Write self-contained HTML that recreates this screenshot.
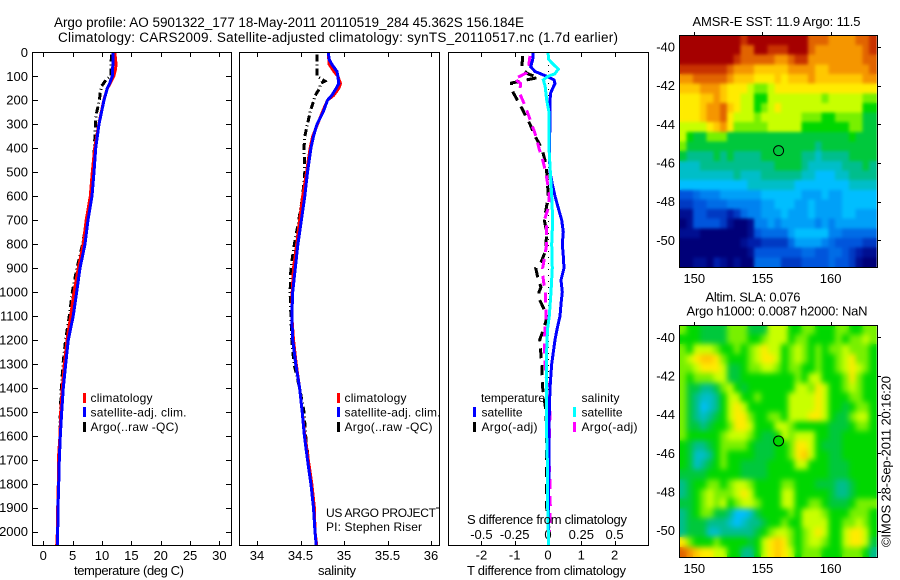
<!DOCTYPE html>
<html>
<head>
<meta charset="utf-8">
<title>Argo profile</title>
<style>
html,body{margin:0;padding:0;background:#fff;width:900px;height:580px;overflow:hidden}
svg{display:block}
text{font-family:"Liberation Sans",sans-serif;fill:#000}
.t{font-size:13px}
.l{font-size:12px}
.h{font-size:13.5px}
</style>
</head>
<body>
<svg id="chart" width="900" height="580" viewBox="0 0 900 580" xmlns="http://www.w3.org/2000/svg">
<defs>
<filter id="soft1" filterUnits="userSpaceOnUse" x="680" y="36" width="197" height="231" color-interpolation-filters="sRGB">
<feGaussianBlur in="SourceGraphic" stdDeviation="1.6" result="b"/>
<feMerge><feMergeNode in="SourceGraphic"/><feMergeNode in="b"/></feMerge>
</filter>
<filter id="soft2" filterUnits="userSpaceOnUse" x="680" y="326" width="197" height="231" color-interpolation-filters="sRGB">
<feGaussianBlur in="SourceGraphic" stdDeviation="3" result="b"/>
<feMerge><feMergeNode in="SourceGraphic"/><feMergeNode in="b"/></feMerge>
</filter>
</defs>
<rect x="0" y="0" width="900" height="580" fill="#fff"/>
<text class="h" x="54" y="27" textLength="470" lengthAdjust="spacing">Argo profile: AO 5901322_177 18-May-2011 20110519_284 45.362S 156.184E</text>
<text class="h" x="58" y="42" textLength="560" lengthAdjust="spacing">Climatology: CARS2009. Satellite-adjusted climatology: synTS_20110517.nc (1.7d earlier)</text>
<g id="map1"></g>
<g id="map2"></g>
<g id="p1"></g>
<g id="p2"></g>
<g id="p3"></g>
<rect x="32.5" y="52.5" width="199" height="493" fill="none" stroke="#000"/>
<rect x="239.5" y="52.5" width="200" height="493" fill="none" stroke="#000"/>
<rect x="448.5" y="52.5" width="200" height="493" fill="none" stroke="#000"/>
<rect x="679.5" y="35.5" width="198" height="232" fill="none" stroke="#000"/>
<rect x="679.5" y="325.5" width="198" height="232" fill="none" stroke="#000"/>
<text class="t" x="74" y="575" textLength="110" lengthAdjust="spacing">temperature (deg C)</text>
<text class="t" x="318" y="575" textLength="38" lengthAdjust="spacing">salinity</text>
<text class="t" x="467" y="575" textLength="159" lengthAdjust="spacing">T difference from climatology</text>
<text class="t" x="467" y="524" textLength="160" lengthAdjust="spacing">S difference from climatology</text>
<text class="l" x="326" y="517" textLength="110" lengthAdjust="spacing">US ARGO PROJECT</text>
<text class="l" x="326" y="531" textLength="96" lengthAdjust="spacing">PI: Stephen Riser</text>
<line x1="436" y1="508" x2="440" y2="508" stroke="#000"/>
<g>
<rect x="83" y="393" width="3" height="10" fill="#f00"/>
<rect x="83" y="407" width="3" height="10" fill="#00f"/>
<rect x="83" y="422" width="3" height="10" fill="#000"/>
<text class="l" x="90.5" y="402" textLength="62" lengthAdjust="spacing">climatology</text>
<text class="l" x="90.5" y="416.5" textLength="96" lengthAdjust="spacing">satellite-adj. clim.</text>
<text class="l" x="90.5" y="431" textLength="88" lengthAdjust="spacing">Argo(..raw -QC)</text>
</g>
<g>
<rect x="337" y="393" width="3" height="10" fill="#f00"/>
<rect x="337" y="407" width="3" height="10" fill="#00f"/>
<rect x="337" y="422" width="3" height="10" fill="#000"/>
<text class="l" x="344.5" y="402" textLength="62" lengthAdjust="spacing">climatology</text>
<text class="l" x="344.5" y="416.5" textLength="96" lengthAdjust="spacing">satellite-adj. clim.</text>
<text class="l" x="344.5" y="431" textLength="88" lengthAdjust="spacing">Argo(..raw -QC)</text>
</g>
<g>
<text class="l" x="481" y="402" textLength="64" lengthAdjust="spacing">temperature</text>
<text class="l" x="581.5" y="402" textLength="38" lengthAdjust="spacing">salinity</text>
<rect x="473" y="407" width="3" height="10" fill="#00f"/>
<rect x="473" y="422" width="3" height="10" fill="#000"/>
<rect x="573" y="407" width="3" height="10" fill="#0ff"/>
<rect x="573" y="422" width="3" height="10" fill="#f0f"/>
<text class="l" x="481.5" y="416.5" textLength="41" lengthAdjust="spacing">satellite</text>
<text class="l" x="481.5" y="431" textLength="56" lengthAdjust="spacing">Argo(-adj)</text>
<text class="l" x="581.5" y="416.5" textLength="41" lengthAdjust="spacing">satellite</text>
<text class="l" x="581.5" y="431" textLength="56" lengthAdjust="spacing">Argo(-adj)</text>
</g>
<text class="t" x="692.5" y="26" textLength="168" lengthAdjust="spacing">AMSR-E SST: 11.9 Argo: 11.5</text>
<text class="t" x="705.5" y="301.5" textLength="95" lengthAdjust="spacing">Altim. SLA: 0.076</text>
<text class="t" x="686.5" y="315.5" textLength="181" lengthAdjust="spacing">Argo h1000: 0.0087 h2000: NaN</text>
<text class="t" transform="translate(890.5,547) rotate(-90)" x="0" y="0" textLength="171" lengthAdjust="spacing">©IMOS 28-Sep-2011 20:16:20</text>
</svg>
<script>
// ---- profile data ----
const depthTicks = [0,100,200,300,400,500,600,700,800,900,1000,1100,1200,1300,1400,1500,1600,1700,1800,1900,2000];
const tempTicks = [0,5,10,15,20,25,30];
const salTicks = [34,34.5,35,35.5,36];
const diffTTicks = [-2,-1,0,1,2];
const diffSTicks = [-0.5,-0.25,0,0.25,0.5];
const lonTicks = [150,155,160];
const latTicks = [-40,-42,-44,-46,-48,-50];

const tempDepths = [0,30,50,70,100,130,150,200,300,400,500,600,700,800,900,1000,1100,1200,1300,1400,1500,1600,1700,1800,1900,2000,2055];
const tempClim = [12.2,12.3,12.4,12.3,12.0,11.4,10.9,10.3,9.45,8.75,8.35,8.0,7.3,6.8,5.96,5.23,4.66,4.04,3.58,3.24,2.96,2.85,2.56,2.56,2.45,2.4,2.28];
const tempSat = [11.87,11.87,11.85,11.8,11.75,11.3,10.9,10.34,9.49,8.92,8.64,8.3,7.62,7.1,6.25,5.69,5.1,4.26,3.81,3.4,3.13,2.9,2.73,2.62,2.5,2.45,2.45];
const tempArgoDepths = [10,50,100,115,140,170,200,250,300,400,500,600,700,800,900,1000,1100,1200,1300,1400,1500,1600,1700,1800,1900,2000];
const tempArgo = [11.65,11.5,11.5,10.7,9.95,9.7,9.55,9.1,8.87,8.7,8.4,8.07,7.4,6.7,5.74,4.94,4.43,3.8,3.36,3.07,2.9,2.85,2.6,2.55,2.45,2.4];

const salDepths = [0,30,50,80,100,130,150,180,200,250,300,350,400,500,600,700,800,900,1000,1100,1200,1300,1400,1500,1600,1700,1800,1900,2000,2055];
const salClim = [34.82,34.825,34.83,34.885,34.93,34.96,34.94,34.88,34.81,34.75,34.695,34.64,34.61,34.57,34.525,34.49,34.456,34.42,34.405,34.40,34.42,34.45,34.49,34.52,34.55,34.59,34.63,34.66,34.667,34.686];
const salSat = [34.82,34.83,34.86,34.92,34.93,34.94,34.91,34.86,34.81,34.76,34.69,34.65,34.62,34.58,34.55,34.51,34.47,34.44,34.41,34.40,34.41,34.445,34.49,34.52,34.545,34.58,34.62,34.65,34.667,34.68];
const salArgoDepths = [10,50,100,120,130,150,180,250,300,350,400,500,600,700,800,900,1000,1100,1200,1300,1400,1500,1600,1700,1800,1900,2000];
const salArgo = [34.69,34.69,34.69,34.78,34.73,34.72,34.67,34.61,34.58,34.55,34.54,34.55,34.525,34.48,34.43,34.39,34.38,34.39,34.40,34.425,34.49,34.54,34.56,34.59,34.63,34.65,34.67];

const diffTSatDepths = [0,30,60,80,100,115,130,150,170,200,300,400,500,550,600,650,700,750,800,850,900,950,1000,1050,1100,1150,1200,1300,1400,1500,1600,1700,1800,1900,2000,2055];
const diffTSat = [-0.44,-0.46,-0.52,-0.39,-0.04,0.18,0.21,0.14,0.08,0.06,0.06,0.04,0.06,0.13,0.21,0.31,0.41,0.46,0.43,0.46,0.48,0.39,0.43,0.39,0.36,0.28,0.21,0.11,0.06,0.04,0.03,0.03,0.02,0.02,0.01,0.01];
const diffSSatDepths = [0,30,50,70,90,100,115,140,200,250,400,600,700,800,900,1000,1100,1150,1200,1300,1400,1500,1600,1700,1800,1900,2000,2055];
const diffSSat = [0,0.005,0.04,0.078,0.05,0,-0.035,-0.022,-0.01,0.0075,0.0075,0.0275,0.035,0.0275,0.0325,0.0225,0.01,-0.0025,-0.0075,-0.0125,-0.01,-0.01,-0.01,-0.005,-0.0025,-0.0025,0.0025,0.0025];
const diffTArgoDepths = [15,70,90,105,128,150,170,200,240,270,300,350,400,450,500,600,700,750,800,830,870,900,950,980,1000,1030,1080,1100,1150,1200,1300,1400,1500,1600,1700,1900,2000];
const diffTArgo = [-0.76,-0.79,-0.6,-0.29,-1.09,-1.09,-1.04,-0.92,-0.76,-0.66,-0.54,-0.39,-0.19,-0.09,-0.04,0.01,-0.11,-0.04,-0.06,-0.08,-0.19,-0.37,-0.29,-0.21,-0.27,-0.26,-0.09,-0.02,-0.12,-0.25,-0.19,-0.16,-0.06,-0.04,-0.04,-0.04,0.04];
const diffSArgoDepths = [15,70,85,100,110,130,170,200,250,300,350,400,450,500,550,600,650,700,730,800,900,950,1000,1100,1200,1250,1350,1400,1500,1600,1700,1800,1900,2000];
const diffSArgo = [-0.135,-0.148,-0.16,-0.21,-0.255,-0.205,-0.215,-0.19,-0.155,-0.1225,-0.09,-0.0675,-0.04,-0.0175,-0.0025,0.01,0.0025,-0.0275,-0.01,-0.01,-0.04,-0.035,-0.02,-0.015,-0.0275,-0.0275,-0.015,-0.0025,0.015,0.01,0.0075,0.015,0.0175,0.0125];

// ---- map data (colour-index per cell, 0 = coldest/lowest, 20 = warmest/highest) ----
const argoLon = 156.184;
const argoLat = -45.362;
const argoSlaValue = 12;
const sstCells = [
[20,20,20,20,20,20,20,20,20,19,20,20,20,20,20,20,20,20,20,18,18,18,17,17,17,17,18,18,19],
[20,20,20,20,20,20,20,20,20,18,18,20,20,19,19,19,20,20,20,18,17,17,17,17,17,17,17,18,19],
[20,20,20,20,20,20,20,20,19,18,18,18,18,18,17,17,18,19,19,17,17,17,17,17,17,17,17,18,18],
[19,19,19,19,19,19,19,18,17,17,17,16,16,16,16,16,17,17,17,17,16,16,17,17,17,17,17,17,18],
[17,17,18,18,18,18,18,17,16,16,16,15,15,15,16,15,16,16,16,17,16,16,16,16,16,16,16,17,17],
[16,16,16,17,17,17,16,15,15,15,14,13,13,14,15,15,15,15,15,15,15,15,15,15,15,15,15,15,15],
[15,15,15,16,16,17,16,15,15,14,14,12,12,14,14,14,14,14,14,14,14,13,14,14,14,14,14,13,13],
[15,15,15,16,17,17,18,16,15,14,14,12,13,14,15,14,14,14,14,14,14,14,14,14,14,14,14,12,12],
[15,15,15,16,17,17,18,15,14,14,14,13,14,14,14,14,14,14,13,13,13,12,12,13,13,13,13,11,11],
[14,14,14,14,15,16,17,15,13,13,13,13,13,14,14,14,14,14,12,12,12,12,12,12,12,13,13,11,11],
[14,12,11,11,13,13,13,11,11,11,11,11,11,11,11,11,11,11,11,11,11,11,11,11,11,12,11,11,11],
[13,11,11,11,11,11,11,11,11,11,11,11,11,11,11,11,11,11,11,11,10,11,11,11,11,11,11,11,11],
[11,10,10,10,10,11,10,11,10,10,10,10,11,11,11,11,11,11,10,10,9,10,10,10,10,11,11,11,11],
[9,9,9,10,10,10,10,10,10,10,10,10,10,10,11,11,11,11,10,9,9,9,9,9,10,10,10,11,10],
[9,9,9,9,9,9,9,9,10,9,9,9,10,10,10,10,10,10,9,9,8,8,8,9,9,10,10,10,10],
[8,8,8,8,8,8,8,8,8,8,9,9,9,9,9,9,9,8,8,8,8,8,8,8,8,9,9,9,9],
[4,4,5,6,6,6,7,7,7,7,7,7,8,8,8,8,8,8,7,7,7,8,7,7,8,8,8,8,8],
[3,3,4,4,5,5,5,6,6,6,6,6,7,7,8,8,8,7,7,8,7,7,7,7,8,8,8,8,8],
[1,1,4,4,3,3,3,2,3,5,6,6,7,7,7,8,7,7,7,8,7,7,7,7,8,8,7,7,7],
[0,1,4,4,4,4,3,1,0,0,1,6,6,7,6,7,7,7,7,7,6,7,6,7,7,7,7,7,7],
[1,1,1,0,0,0,0,0,0,0,1,4,5,5,5,5,7,8,8,8,8,8,6,6,5,5,5,5,5],
[0,0,0,0,0,0,0,0,0,1,2,2,3,3,3,3,5,7,7,7,7,6,5,4,4,4,4,3,3],
[0,0,0,0,0,0,0,0,0,0,1,4,4,4,4,4,4,4,5,5,4,4,5,5,4,3,2,1,1],
[0,0,1,1,0,2,1,0,1,0,0,5,5,5,5,3,3,3,4,4,4,4,5,4,4,3,1,0,0]
];
const slaCells = [
[13,12,12,11,11,11,11,13,13,13,11,11,11,14,14,14,12,12,13,13,12,12,12,13,13,12,12,13,13],
[12,12,12,11,11,11,11,13,13,13,12,12,13,14,14,14,12,13,13,12,12,12,12,13,12,13,13,14,13],
[13,12,14,14,14,13,12,12,13,12,13,14,15,14,14,12,13,14,13,12,13,12,13,13,14,13,13,13,12],
[13,14,15,16,16,15,13,12,12,12,13,14,15,15,14,12,13,14,13,12,13,12,12,13,14,15,13,13,12],
[13,13,14,15,15,15,14,11,11,12,13,13,14,14,13,12,13,13,12,12,13,12,12,13,14,15,14,13,12],
[13,12,13,13,13,14,14,11,11,12,12,12,12,12,12,12,12,13,12,14,14,12,12,12,13,15,13,12,12],
[13,11,11,10,10,11,13,14,12,11,12,12,12,12,12,12,12,14,14,13,15,14,12,12,13,14,13,12,12],
[13,11,10,9,9,10,12,14,14,12,12,13,12,12,12,12,14,14,14,14,15,14,12,12,12,13,13,12,12],
[13,11,10,8,9,10,12,14,15,14,12,12,12,12,12,12,14,14,14,14,15,14,12,12,11,12,13,13,12],
[13,11,10,9,10,11,12,14,15,15,13,12,12,13,13,12,14,14,14,15,15,14,12,11,11,13,14,14,12],
[13,11,11,10,11,12,12,13,15,15,14,12,12,12,14,14,13,12,12,12,12,12,11,11,11,12,13,13,12],
[13,12,12,12,12,12,13,14,14,14,13,12,11,11,12,14,13,14,14,14,12,12,11,11,12,12,12,12,12],
[12,11,10,10,11,12,13,13,13,13,12,11,11,11,12,12,13,15,15,14,12,11,11,11,12,12,12,12,12],
[12,11,9,9,10,12,13,12,12,12,12,11,11,11,12,12,13,15,16,14,12,12,11,11,12,12,12,12,12],
[12,11,9,10,11,12,13,12,12,11,11,11,11,12,12,12,12,14,14,12,12,12,11,11,11,12,12,12,12],
[11,11,11,11,12,12,12,12,12,11,11,11,11,12,12,12,12,12,12,12,12,12,11,11,11,12,12,12,12],
[10,11,12,12,13,13,12,13,14,14,13,12,12,12,12,13,13,12,12,12,11,11,11,10,10,11,12,12,12],
[10,11,12,13,14,13,13,13,14,15,14,12,12,12,12,14,14,12,12,12,12,12,11,10,10,11,12,12,12],
[11,11,12,13,14,13,14,12,13,14,14,13,12,12,12,14,14,12,12,13,13,12,11,11,11,12,13,13,13],
[10,11,12,13,13,11,11,10,8,8,9,11,12,12,12,12,13,12,14,14,14,13,12,12,12,13,13,13,12],
[10,11,11,11,10,10,10,9,8,9,10,10,11,12,12,13,12,12,14,14,14,14,12,12,13,13,14,13,12],
[10,11,11,11,9,9,10,10,10,10,10,11,12,13,14,14,13,12,13,14,15,14,12,12,14,15,15,14,12],
[15,13,12,12,12,13,12,12,12,12,11,12,14,15,16,15,13,12,13,14,14,13,12,12,14,15,15,14,11],
[18,17,16,15,15,14,14,12,12,10,10,12,14,15,16,15,14,12,13,13,13,12,12,12,13,13,13,12,10]
];

// ---- axis functions ----
function yDepth(d){ return 52.3 + d * 0.2397; }
function xTemp(t){ return 43.3 + t * 5.87; }
function xSal(s){ return 257 + (s - 34) * 87; }
function xDiffT(v){ return 548 + v * 33.3; }
function xDiffS(v){ return 548 + v * 133.2; }
function xLon(lon){ return 694.3 + (lon - 150) * 13.63; }
function yLat1(lat){ return 47 + (-40 - lat) * 19.33; }
function yLat2(lat){ return 337.3 + (-40 - lat) * 19.33; }

const NS = 'http://www.w3.org/2000/svg';
function node(parent, tag, attrs, name){
  const el = document.createElementNS(NS, tag);
  for (const k in attrs) el.setAttribute(k, attrs[k]);
  
  
  parent.appendChild(el);
  return el;
}
function label(parent, str, x, y, anchor, name){
  const el = node(parent, 'text', {x:x, y:y, 'text-anchor':anchor, 'class':'t'}, name);
  el.textContent = str;
  return el;
}
function tick(parent, x1, y1, x2, y2, name){
  node(parent, 'line', {x1:x1, y1:y1, x2:x2, y2:y2, stroke:'#000', 'shape-rendering':'crispEdges'}, name);
}
function profile(parent, depths, values, xf, color, dash, name){
  const pts = depths.map(function(d, i){ return xf(values[i]).toFixed(1) + ',' + yDepth(d).toFixed(1); }).join(' ');
  const attrs = {points:pts, fill:'none', stroke:color, 'stroke-width':3, 'shape-rendering':'crispEdges'};
  if (dash) attrs['stroke-dasharray'] = dash;
  node(parent, 'polyline', attrs, name);
}

// ---- panel 1: temperature ----
const p1 = document.getElementById('p1');
depthTicks.forEach(function(d){
  const y = Math.round(yDepth(d)) + 0.5;
  tick(p1, 33, y, 38, y, 'depth-tick-left');
  tick(p1, 226, y, 231, y, 'depth-tick-right');
  label(p1, String(d), 28, yDepth(d) + 4.5, 'end', 'depth-tick-label');
});
tempTicks.forEach(function(t){
  const x = Math.round(xTemp(t)) + 0.5;
  tick(p1, x, 53, x, 57, 'temperature-tick-top');
  tick(p1, x, 541, x, 545, 'temperature-tick-bottom');
  label(p1, String(t), xTemp(t), 560, 'middle', 'temperature-tick-label');
});
profile(p1, tempArgoDepths, tempArgo, xTemp, '#000', '7,3,1,3', 'temperature-argo-line');
profile(p1, tempDepths, tempClim, xTemp, '#f00', null, 'temperature-climatology-line');
profile(p1, tempDepths, tempSat, xTemp, '#00f', null, 'temperature-satellite-line');

// ---- panel 2: salinity ----
const p2 = document.getElementById('p2');
salTicks.forEach(function(s){
  const x = Math.round(xSal(s)) + 0.5;
  tick(p2, x, 53, x, 57, 'salinity-tick-top');
  tick(p2, x, 541, x, 545, 'salinity-tick-bottom');
  label(p2, String(s), xSal(s), 560, 'middle', 'salinity-tick-label');
});
profile(p2, salArgoDepths, salArgo, xSal, '#000', '7,3,1,3', 'salinity-argo-line');
profile(p2, salDepths, salClim, xSal, '#f00', null, 'salinity-climatology-line');
profile(p2, salDepths, salSat, xSal, '#00f', null, 'salinity-satellite-line');

// ---- panel 3: differences ----
const p3 = document.getElementById('p3');
diffTTicks.forEach(function(t){
  const x = Math.round(xDiffT(t)) + 0.5;
  tick(p3, x, 53, x, 57, 'difference-tick-top');
  tick(p3, x, 541, x, 545, 'difference-tick-bottom');
  label(p3, String(t), xDiffT(t), 559.5, 'middle', 't-difference-tick-label');
});
diffSTicks.forEach(function(s){
  label(p3, String(s), xDiffS(s), 539, 'middle', 's-difference-tick-label');
});
node(p3, 'line', {x1:548.5, y1:53, x2:548.5, y2:545, stroke:'#000', 'stroke-dasharray':'1,5', 'shape-rendering':'crispEdges'}, 'zero-reference-line');
profile(p3, diffTArgoDepths, diffTArgo, xDiffT, '#000', '10,7', 't-difference-argo-line');
profile(p3, diffSArgoDepths, diffSArgo, xDiffS, '#f0f', '10,7', 's-difference-argo-line');
profile(p3, diffTSatDepths, diffTSat, xDiffT, '#00f', null, 't-difference-satellite-line');
profile(p3, diffSSatDepths, diffSSat, xDiffS, '#0ff', null, 's-difference-satellite-line');

// ---- maps ----
const colorStops = [
  [0,0,0,120],[2,0,30,170],[4,0,85,220],[6,0,130,240],[8,0,190,255],[9,0,190,200],
  [10,0,190,140],[11,0,200,60],[12,0,215,0],[13,120,240,0],[14,200,255,0],[15,255,235,0],
  [16,255,200,0],[17,245,150,0],[18,225,100,0],[19,200,50,0],[20,165,0,0]
];
function cellColor(v){
  for (let i = 1; i < colorStops.length; i++){
    const a = colorStops[i-1], b = colorStops[i];
    if (v <= b[0]){
      const f = (v - a[0]) / (b[0] - a[0]);
      return 'rgb(' + [1,2,3].map(function(k){ return Math.round(a[k] + (b[k]-a[k])*f); }).join(',') + ')';
    }
  }
  return 'rgb(165,0,0)';
}
function drawMap(groupId, cells, latFn, name, latTop, latBottom, markerValue, softFilter){
  const g = document.getElementById(groupId);
  const cellGroup = node(g, 'g', {filter:'url(#' + softFilter + ')'}, name + '-cells');
  const lonLeft = 148.92, lonRight = 163.32;
  const rows = cells.length, cols = cells[0].length;
  const dLon = (lonRight - lonLeft) / cols, dLat = (latBottom - latTop) / rows;
  cells.forEach(function(row, r){
    row.forEach(function(v, c){
      const x0 = xLon(lonLeft + c * dLon), x1 = xLon(lonLeft + (c+1) * dLon);
      const y0 = latFn(latTop + r * dLat), y1 = latFn(latTop + (r+1) * dLat);
      node(cellGroup, 'rect', {x:x0.toFixed(2), y:y0.toFixed(2), width:(x1-x0+0.6).toFixed(2), height:(y1-y0+0.6).toFixed(2), fill:cellColor(v), 'shape-rendering':'crispEdges'}, name + '-cell');
    });
  });
  const frameTop = Math.round(latFn(latTop));
  const frameBottom = Math.round(latFn(latBottom));
  lonTicks.forEach(function(lon){
    const x = Math.round(xLon(lon)) + 0.5;
    tick(g, x, frameTop - 3, x, frameTop, name + '-lon-tick');
    label(g, String(lon), xLon(lon), frameBottom + 16, 'middle', name + '-lon-label');
  });
  latTicks.forEach(function(lat){
    const y = Math.round(latFn(lat)) + 0.5;
    tick(g, 878, y, 881, y, name + '-lat-tick');
    label(g, String(lat), 675, latFn(lat) + 4.5, 'end', name + '-lat-label');
  });
  node(g, 'circle', {cx:xLon(argoLon), cy:latFn(argoLat), r:5, fill:markerValue === null ? 'none' : cellColor(markerValue), stroke:'#000'}, name + '-argo-marker');
}
drawMap('map1', sstCells, yLat1, 'sst-map', -39.4, -51.38, null, 'soft1');
drawMap('map2', slaCells, yLat2, 'sla-map', -39.36, -51.34, argoSlaValue, 'soft2');
</script>
</body>
</html>
